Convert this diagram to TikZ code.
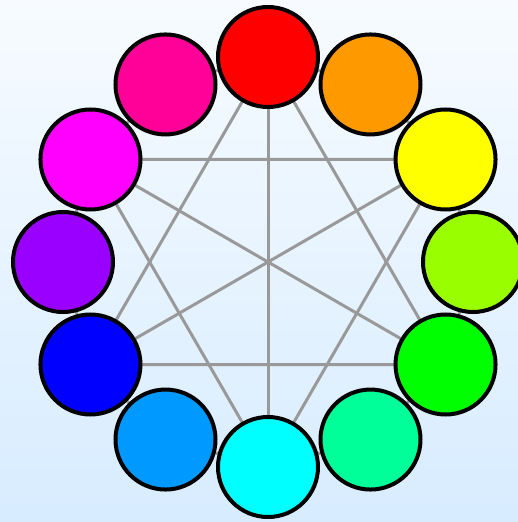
\documentclass[tikz,border=0pt]{standalone}
\usepackage{xcolor}
\usepackage{tikz}
\usetikzlibrary{backgrounds}
\definecolor{wheelred}{RGB}{255,0,0}
\definecolor{wheelorange}{RGB}{255,153,0}
\definecolor{wheelyellow}{RGB}{255,255,0}
\definecolor{wheellime}{RGB}{153,255,0}
\definecolor{wheelgreen}{RGB}{0,255,0}
\definecolor{wheelspring}{RGB}{0,255,153}
\definecolor{wheelcyan}{RGB}{0,255,255}
\definecolor{wheelazure}{RGB}{0,153,255}
\definecolor{wheelblue}{RGB}{0,0,255}
\definecolor{wheelviolet}{RGB}{153,0,255}
\definecolor{wheelmagenta}{RGB}{255,0,255}
\definecolor{wheelrose}{RGB}{255,0,153}
\definecolor{chordGray}{RGB}{153,153,153}
\definecolor{skyTop}{RGB}{247,251,255}
\definecolor{skyBottom}{RGB}{215,236,255}

\begin{document}
\begin{tikzpicture}[x=1pt,y=1pt,
  hue/.style={circle,draw=black,line width=4pt,minimum size=100pt,inner sep=0pt},
  chord/.style={chordGray,line width=3pt}]
\useasboundingbox (-268,-260) rectangle (250,262);
\foreach \name/\ang in {red/90,orange/60,yellow/30,lime/0,green/-30,spring/-60,cyan/-90,azure/-120,blue/-150,violet/180,magenta/150,rose/120}
  \node[hue,fill=wheel\name] (\name) at (\ang:205) {};
\begin{scope}[on background layer]
\shade[top color=skyTop,bottom color=skyBottom] (-268,-260) rectangle (250,262);
% ring of neighbours
\draw[chord] (red.center) -- (orange.center) -- (yellow.center) -- (lime.center) -- (green.center) -- (spring.center) -- (cyan.center) -- (azure.center) -- (blue.center) -- (violet.center) -- (magenta.center) -- (rose.center) -- cycle;
% diameters
\draw[chord] (red.center) -- (cyan.center);
\draw[chord] (yellow.center) -- (blue.center);
\draw[chord] (magenta.center) -- (green.center);
% primary triangles
\draw[chord] (red.center) -- (green.center) -- (blue.center) -- cycle;
\draw[chord] (cyan.center) -- (magenta.center) -- (yellow.center) -- cycle;
\end{scope}
\end{tikzpicture}
\end{document}
